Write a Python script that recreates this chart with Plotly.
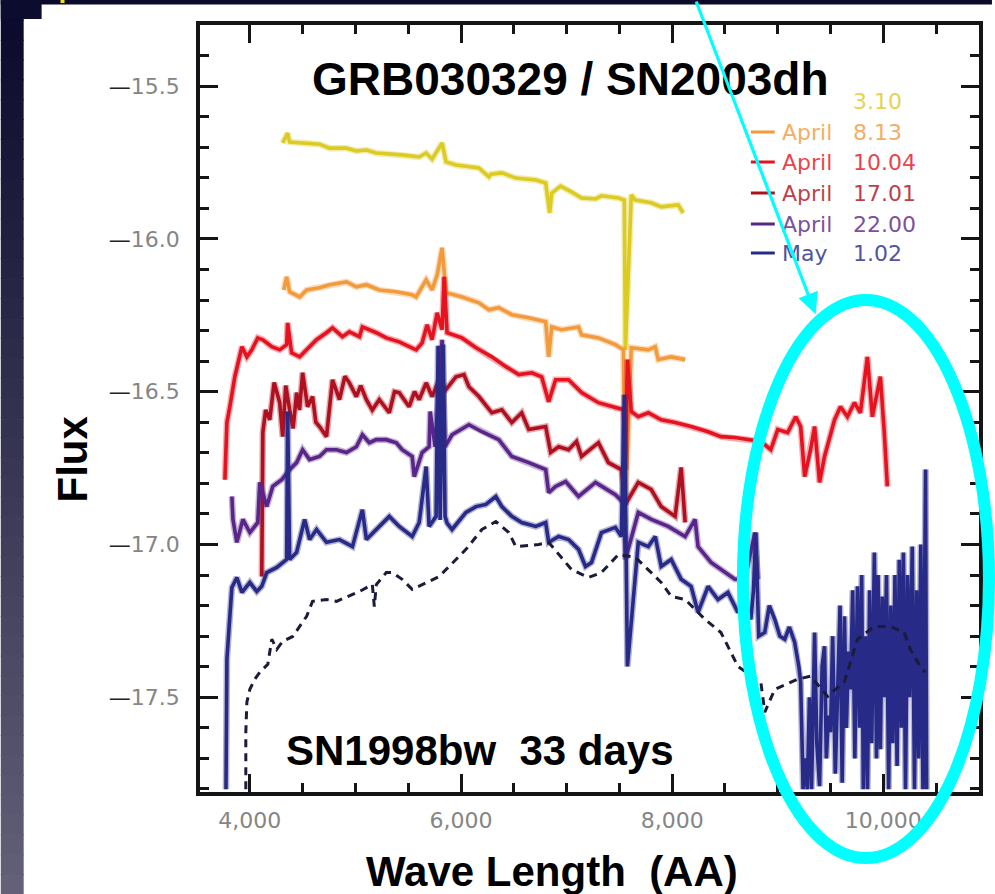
import plotly.graph_objects as go
import numpy as np

# ---------------- data (wavelength in AA, log flux) ----------------
wl_mar = [4311, 4358, 4377, 4500, 4660, 4755, 4915, 5009, 5104, 5198, 5443, 5604, 5670, 5726, 5821, 5858,
          5953, 6170, 6264, 6283, 6387, 6519, 6708, 6802, 6840, 6859, 6943, 7047, 7142, 7274, 7330, 7491,
          7547, 7557, 7613, 7651, 7802, 7896, 8057, 8104]
fx_mar = [-15.686, -15.654, -15.683, -15.686, -15.690, -15.703, -15.703, -15.712, -15.709, -15.719, -15.725,
          -15.732, -15.719, -15.739, -15.686, -15.748, -15.758, -15.768, -15.797, -15.788, -15.784, -15.801,
          -15.807, -15.817, -15.915, -15.850, -15.827, -15.846, -15.866, -15.869, -15.859, -15.866, -15.873,
          -16.363, -15.856, -15.873, -15.882, -15.895, -15.889, -15.915]

wl_a08 = [4321, 4349, 4377, 4472, 4538, 4660, 4755, 4915, 5009, 5104, 5226, 5387, 5538, 5575, 5670, 5726,
          5774, 5821, 5858, 6009, 6170, 6264, 6358, 6481, 6642, 6736, 6802, 6830, 6859, 6953, 7113, 7142,
          7302, 7462, 7538, 7557, 7613, 7774, 7840, 7868, 7991, 8123]
fx_a08 = [-16.167, -16.124, -16.173, -16.190, -16.167, -16.160, -16.150, -16.141, -16.157, -16.150, -16.167,
          -16.173, -16.183, -16.190, -16.134, -16.167, -16.118, -16.029, -16.176, -16.190, -16.209, -16.232,
          -16.225, -16.248, -16.258, -16.265, -16.271, -16.386, -16.288, -16.297, -16.288, -16.314, -16.324,
          -16.346, -16.363, -16.869, -16.356, -16.363, -16.353, -16.395, -16.386, -16.395]

wl_a10 = [3764, 3783, 3811, 3858, 3925, 3972, 4019, 4075, 4123, 4208, 4283, 4349, 4358, 4396, 4472, 4538,
          4632, 4726, 4783, 4877, 4943, 5038, 5066, 5198, 5292, 5415, 5509, 5575, 5632, 5679, 5726, 5774,
          5821, 5840, 5868, 6009, 6142, 6292, 6425, 6547, 6670, 6764, 6830, 6896, 7019, 7142, 7302, 7462,
          7538, 7557, 7576, 7613, 7679, 7774, 7896, 8028, 8179, 8340, 8462, 8594, 8717, 8840, 8934, 9000,
          9094, 9170, 9217, 9255, 9311, 9349, 9396, 9443, 9538, 9594, 9660, 9726, 9783, 9849, 9896, 9972,
          10009, 10038]
fx_a10 = [-16.788, -16.601, -16.549, -16.451, -16.353, -16.386, -16.363, -16.324, -16.330, -16.353, -16.363,
          -16.346, -16.275, -16.373, -16.386, -16.363, -16.330, -16.307, -16.291, -16.320, -16.304, -16.320,
          -16.288, -16.307, -16.324, -16.337, -16.353, -16.363, -16.340, -16.281, -16.330, -16.242, -16.297,
          -16.124, -16.307, -16.324, -16.356, -16.386, -16.418, -16.444, -16.438, -16.451, -16.533, -16.461,
          -16.461, -16.503, -16.536, -16.552, -16.559, -16.755, -16.395, -16.565, -16.582, -16.569, -16.592,
          -16.601, -16.614, -16.631, -16.647, -16.650, -16.657, -16.663, -16.690, -16.624, -16.634, -16.582,
          -16.614, -16.778, -16.690, -16.614, -16.797, -16.712, -16.592, -16.549, -16.582, -16.536, -16.569,
          -16.386, -16.582, -16.451, -16.634, -16.810]

wl_a17 = [4113, 4123, 4150, 4189, 4230, 4283, 4311, 4340, 4377, 4410, 4443, 4470, 4500, 4547, 4594, 4625,
          4660, 4726, 4783, 4849, 4900, 4943, 5009, 5050, 5104, 5160, 5226, 5321, 5370, 5415, 5509, 5560,
          5604, 5670, 5726, 5792, 5858, 5953, 6028, 6075, 6170, 6292, 6387, 6481, 6575, 6642, 6802, 6849,
          6925, 7019, 7094, 7142, 7302, 7396, 7519, 7557, 7679, 7802, 7896, 8028, 8085, 8123]
fx_a17 = [-17.105, -16.634, -16.560, -16.592, -16.470, -16.536, -16.647, -16.480, -16.559, -16.620, -16.503,
          -16.560, -16.438, -16.549, -16.516, -16.600, -16.614, -16.647, -16.461, -16.526, -16.450, -16.471,
          -16.516, -16.480, -16.526, -16.560, -16.526, -16.569, -16.500, -16.503, -16.549, -16.500, -16.526,
          -16.471, -16.516, -16.461, -16.493, -16.451, -16.444, -16.484, -16.516, -16.569, -16.559, -16.601,
          -16.569, -16.624, -16.614, -16.699, -16.680, -16.690, -16.663, -16.712, -16.667, -16.732, -16.755,
          -16.869, -16.797, -16.820, -16.876, -16.908, -16.748, -16.928]

wl_a22 = [3830, 3840, 3877, 3934, 4000, 4075, 4094, 4160, 4217, 4302, 4377, 4443, 4500, 4566, 4660, 4726,
          4821, 4915, 5009, 5066, 5132, 5198, 5292, 5387, 5443, 5538, 5557, 5632, 5698, 5708, 5755, 5821,
          5849, 5915, 6075, 6198, 6358, 6481, 6642, 6802, 6830, 6896, 6991, 7113, 7274, 7462, 7538, 7557,
          7679, 7802, 7962, 8123, 8217, 8245, 8368, 8500, 8594, 8689, 8783, 8811]
fx_a22 = [-16.843, -16.918, -16.993, -16.918, -16.961, -16.928, -16.797, -16.876, -16.810, -16.788, -16.755,
          -16.732, -16.690, -16.722, -16.712, -16.690, -16.690, -16.699, -16.680, -16.641, -16.667, -16.657,
          -16.657, -16.667, -16.690, -16.712, -16.778, -16.699, -16.680, -16.565, -16.680, -16.330, -16.680,
          -16.641, -16.608, -16.631, -16.657, -16.712, -16.732, -16.755, -16.830, -16.810, -16.794, -16.843,
          -16.797, -16.837, -16.863, -17.049, -16.895, -16.918, -16.941, -16.974, -16.918, -17.007, -17.059,
          -17.092, -17.114, -17.114, -16.961, -17.114]

wl_may = [3774, 3783, 3802, 3830, 3877, 3925, 4000, 4066, 4113, 4160, 4255, 4349, 4358, 4377, 4443, 4519,
          4566, 4632, 4726, 4849, 4972, 5066, 5104, 5198, 5321, 5415, 5538, 5604, 5670, 5698, 5764, 5783,
          5802, 5830, 5849, 5868, 5915, 6047, 6142, 6236, 6330, 6387, 6481, 6575, 6708, 6802, 6830, 6925,
          7019, 7113, 7179, 7236, 7330, 7462, 7519, 7547, 7576, 7679, 7774, 7840, 7896, 7991, 8085, 8179,
          8245, 8340, 8434, 8528, 8623, 8680, 8745, 8770, 8792, 8820, 8877, 8920, 8972, 9020, 9066, 9110,
          9160, 9200, 9217, 9240, 9255, 9280, 9300, 9320, 9349, 9370, 9396, 9420, 9443, 9460, 9480, 9500,
          9520, 9545, 9566, 9590, 9610, 9632, 9650, 9670, 9689, 9710, 9730, 9755, 9775, 9795, 9810, 9830,
          9850, 9870, 9890, 9915, 9935, 9950, 9972, 9990, 10009, 10030, 10050, 10070, 10090, 10110, 10130,
          10151, 10170, 10190, 10210, 10230, 10250, 10274, 10295, 10315, 10335, 10355, 10375, 10390, 10400,
          10410]
fx_may = [-17.801, -17.376, -17.278, -17.141, -17.108, -17.157, -17.124, -17.154, -17.137, -17.092, -17.075,
          -17.049, -16.565, -17.049, -17.026, -16.918, -16.984, -16.951, -16.993, -16.984, -17.007, -16.886,
          -16.984, -16.951, -16.908, -16.941, -16.974, -16.928, -16.745, -16.941, -16.908, -16.350, -16.920,
          -16.346, -16.908, -16.930, -16.951, -16.895, -16.876, -16.869, -16.843, -16.876, -16.908, -16.928,
          -16.941, -16.928, -16.993, -16.974, -16.984, -17.016, -17.072, -17.059, -16.961, -16.944, -16.974,
          -16.510, -17.399, -16.993, -17.007, -16.974, -17.072, -17.049, -17.114, -17.137, -17.222, -17.137,
          -17.180, -17.157, -17.222, -17.180, -17.245, -17.150, -16.961, -17.300, -17.288, -17.200, -17.245,
          -17.300, -17.310, -17.270, -17.320, -17.400, -17.451, -17.801, -17.700, -17.801, -17.500, -17.801,
          -17.288, -17.650, -17.791, -17.400, -17.333, -17.700, -17.560, -17.614, -17.300, -17.750, -17.529,
          -17.200, -17.780, -17.235, -17.600, -17.350, -17.474, -17.150, -17.700, -17.137, -17.600, -17.100,
          -17.801, -17.300, -17.801, -17.150, -17.650, -17.026, -17.700, -17.100, -17.670, -17.170, -17.500,
          -17.100, -17.801, -17.200, -17.650, -17.100, -17.725, -17.050, -17.600, -17.026, -17.801, -17.100,
          -17.500, -17.007, -17.801, -17.150, -17.700, -17.000, -17.801, -16.918, -16.755, -17.801]

wl_98bw = [3962, 3962, 3972, 4000, 4047, 4094, 4170, 4208, 4255, 4311, 4406, 4472, 4538, 4594, 4726, 4821,
           4972, 5038, 5160, 5179, 5198, 5292, 5349, 5443, 5538, 5632, 5792, 5887, 5981, 6047, 6198, 6330,
           6453, 6519, 6736, 6830, 6991, 7047, 7208, 7330, 7491, 7651, 7802, 7896, 7991, 8123, 8311, 8462,
           8623, 8840, 8877, 8972, 9189, 9311, 9472, 9632, 9755, 9915, 10066, 10198, 10255, 10349, 10396]
fx_98bw = [-17.801, -17.614, -17.516, -17.474, -17.441, -17.418, -17.392, -17.310, -17.343, -17.317, -17.301,
           -17.268, -17.235, -17.186, -17.180, -17.186, -17.163, -17.154, -17.131, -17.203, -17.131, -17.092,
           -17.092, -17.114, -17.147, -17.131, -17.105, -17.072, -17.039, -17.016, -16.951, -16.925, -16.961,
           -17.007, -17.000, -16.993, -17.059, -17.082, -17.108, -17.092, -17.033, -17.042, -17.092, -17.124,
           -17.170, -17.180, -17.245, -17.288, -17.399, -17.451, -17.549, -17.474, -17.441, -17.431, -17.497,
           -17.448, -17.310, -17.268, -17.268, -17.288, -17.343, -17.399, -17.418]

legend_names = ["", "April", "April", "April", "April", "May"]
legend_dates = ["3.10", "8.13", "10.04", "17.01", "22.00", "1.02"]
colors = ["#dccb22", "#f29a3c", "#e5121f", "#ae1020", "#5a2588", "#272a86"]

x_ticks = [4000, 6000, 8000, 10000]
x_ticktext = ["4,000", "6,000", "8,000", "10,000"]
y_ticks = [-15.5, -16.0, -16.5, -17.0, -17.5]
y_ticktext = ["15.5", "16.0", "16.5", "17.0", "17.5"]

# ---------------- layout geometry (pixels) ----------------
W, H = 995, 894
L, R, T, B = 200, 982, 25, 792


def px(x):
    return (x - L) / (R - L)


def py(y):
    return (B - y) / (B - T)


fig = go.Figure()
series = [(wl_mar, fx_mar), (wl_a08, fx_a08), (wl_a10, fx_a10), (wl_a17, fx_a17), (wl_a22, fx_a22), (wl_may, fx_may)]
for (xs, ys), c, n, d in zip(series, colors, legend_names, legend_dates):
    # soft halo (the reference is a blurred bitmap) + solid core
    fig.add_trace(go.Scatter(x=xs, y=ys, mode="lines", line=dict(color=c, width=6.5), opacity=0.35,
                             showlegend=False, hoverinfo="skip"))
    fig.add_trace(go.Scatter(x=xs, y=ys, mode="lines", line=dict(color=c, width=3.6),
                             name=(n + " " + d).strip(), showlegend=False))
fig.add_trace(go.Scatter(x=wl_98bw, y=fx_98bw, mode="lines", line=dict(color="#1b1b3b", width=3, dash="8px,6px"),
                         name="SN1998bw", showlegend=False))

shapes = []
# background decoration: dark gradient strip on the left and top band
nseg = 45
c0 = np.array([10, 10, 44])
c1 = np.array([99, 96, 119])
for i in range(nseg):
    f = i / (nseg - 1)
    c = (c0 + (c1 - c0) * f).astype(int)
    y0 = H * i / nseg
    y1 = H * (i + 1) / nseg + 1
    shapes.append(dict(type="rect", xref="paper", yref="paper", x0=px(0), x1=px(23), y0=py(y1), y1=py(y0),
                       fillcolor="rgb(%d,%d,%d)" % tuple(c), line=dict(width=0), layer="below"))
shapes.append(dict(type="rect", xref="paper", yref="paper", x0=px(0), x1=px(W), y0=py(4.5), y1=py(0),
                   fillcolor="#0a0a2a", line=dict(width=0), layer="below"))
shapes.append(dict(type="rect", xref="paper", yref="paper", x0=px(0), x1=px(41), y0=py(19), y1=py(0),
                   fillcolor="#0c0c2e", line=dict(width=0), layer="below"))
shapes.append(dict(type="rect", xref="paper", yref="paper", x0=px(60), x1=px(64), y0=py(3), y1=py(0),
                   fillcolor="#f0e020", line=dict(width=0), layer="below"))

# legend line samples
leg_y = [102, 132, 162, 193, 224, 253]
for i, (c, yy) in enumerate(zip(colors, leg_y)):
    if i == 0:
        continue
    shapes.append(dict(type="line", xref="paper", yref="paper", x0=px(753), x1=px(777), y0=py(yy), y1=py(yy),
                       line=dict(color=c, width=3)))

# cyan ellipse highlight
shapes.append(dict(type="circle", xref="paper", yref="paper", x0=px(745), x1=px(992), y0=py(858), y1=py(300),
                   line=dict(color="#00ffff", width=12)))

annotations = []
bold = "Liberation Sans, Arial, Helvetica, sans-serif"
annotations.append(dict(xref="paper", yref="paper", x=px(572), y=py(79), text="<b>GRB030329 / SN2003dh</b>",
                        showarrow=False, font=dict(family=bold, size=46, color="#000"), xanchor="center", yanchor="middle"))
annotations.append(dict(xref="paper", yref="paper", x=px(481), y=py(750), text="<b>SN1998bw\u00a0\u00a033 days</b>",
                        showarrow=False, font=dict(family=bold, size=42, color="#000"), xanchor="center", yanchor="middle"))
annotations.append(dict(xref="paper", yref="paper", x=px(553), y=py(871), text="<b>Wave Length\u00a0\u00a0(AA)</b>",
                        showarrow=False, font=dict(family=bold, size=42, color="#000"), xanchor="center", yanchor="middle"))
annotations.append(dict(xref="paper", yref="paper", x=px(72), y=py(459), text="<b>Flux</b>", textangle=-90,
                        showarrow=False, font=dict(family=bold, size=42, color="#000"), xanchor="center", yanchor="middle"))

small = "DejaVu Sans, Verdana, sans-serif"
for n, d, c, yy in zip(legend_names, legend_dates, colors, leg_y):
    if n:
        annotations.append(dict(xref="paper", yref="paper", x=px(782), y=py(yy), text=n, showarrow=False,
                                font=dict(family=small, size=22, color=c), xanchor="left", yanchor="middle", opacity=0.8))
    annotations.append(dict(xref="paper", yref="paper", x=px(854), y=py(yy), text=d, showarrow=False,
                            font=dict(family=small, size=22, color=c), xanchor="left", yanchor="middle", opacity=0.8))

# cyan arrow
annotations.append(dict(xref="paper", yref="paper", x=px(818), y=py(314), ax=-120, ay=-320, axref="pixel", ayref="pixel",
                        text="", showarrow=True, arrowhead=2, arrowsize=1.3, arrowwidth=3.2, arrowcolor="#00ffff",
                        standoff=0, startstandoff=0))

axis_col = "#151515"
y_text = ["<span style='color:#222'>\u2014</span>" + t for t in y_ticktext]

fig.update_layout(
    width=W, height=H,
    margin=dict(l=L, r=W - R, t=T, b=H - B, pad=0),
    paper_bgcolor="white", plot_bgcolor="white",
    showlegend=False,
    shapes=shapes, annotations=annotations,
    xaxis=dict(range=[3528, 10906], tickmode="array", tickvals=x_ticks, ticktext=x_ticktext,
               ticks="inside", ticklen=18, tickwidth=3, tickcolor=axis_col,
               showline=True, linewidth=3.5, linecolor=axis_col, mirror="allticks",
               showgrid=False, zeroline=False,
               tickfont=dict(family=small, size=22, color="#858585"), ticklabelstandoff=6,
               minor=dict(ticks="inside", ticklen=9, tickwidth=3, tickcolor=axis_col,
                          tickmode="array", tickvals=list(np.arange(4000, 10600, 500)), showgrid=False)),
    yaxis=dict(range=[-17.81, -15.30], tickmode="array", tickvals=y_ticks, ticktext=y_text,
               ticks="inside", ticklen=18, tickwidth=3, tickcolor=axis_col,
               showline=True, linewidth=3.5, linecolor=axis_col, mirror="allticks",
               showgrid=False, zeroline=False,
               tickfont=dict(family=small, size=22, color="#858585"), ticklabelstandoff=12,
               minor=dict(ticks="inside", ticklen=9, tickwidth=3, tickcolor=axis_col,
                          tickmode="array", tickvals=list(np.round(np.arange(-17.8, -15.29, 0.1), 2)), showgrid=False)),
)

fig.write_html("out.html")
